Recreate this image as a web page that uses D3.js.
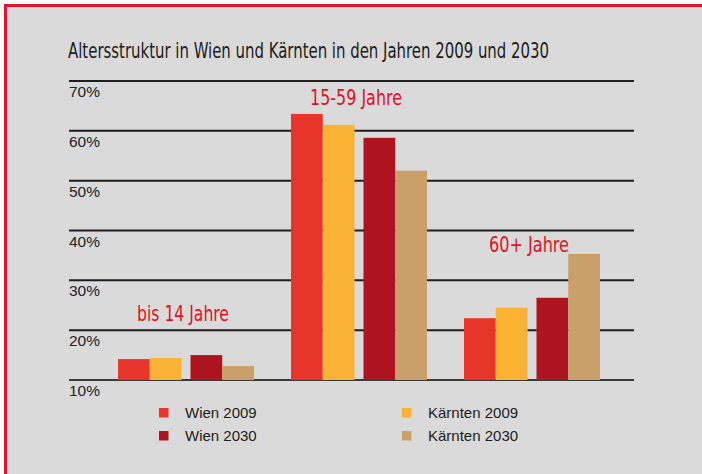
<!DOCTYPE html>
<html>
<head>
<meta charset="utf-8">
<script src="https://cdn.jsdelivr.net/npm/d3@7"></script>
<style>
  html, body { margin: 0; padding: 0; background: #ffffff; }
  svg { display: block; }
</style>
</head>
<body>
<svg id="chart" width="702" height="474"></svg>
<script>
// ---- data ----
const title = "Altersstruktur in Wien und Kärnten in den Jahren 2009 und 2030";
const categories = ["bis 14 Jahre", "15-59 Jahre", "60+ Jahre"];
const years = ["2009", "2030"];
const regions = ["Wien", "Kärnten"];
const wien2009 = [14.2, 63.4, 22.4];
const kaernten2009 = [14.4, 61.2, 24.5];
const wien2030 = [15.0, 58.6, 26.5];
const kaernten2030 = [12.8, 52.0, 35.3];
const yTicks = [10, 20, 30, 40, 50, 60, 70];
const yTickLabels = ["10%", "20%", "30%", "40%", "50%", "60%", "70%"];
const legendLabels = ["Wien 2009", "Wien 2030", "Kärnten 2009", "Kärnten 2030"];
// level (in % units) at which each category caption sits
const captionLevels = [21.8, 65.2, 35.7];

const seriesValues = {
  "Wien 2009": wien2009,
  "Kärnten 2009": kaernten2009,
  "Wien 2030": wien2030,
  "Kärnten 2030": kaernten2030
};
const colors = {
  "Wien 2009": "#e8352b",
  "Kärnten 2009": "#f9b233",
  "Wien 2030": "#ae1420",
  "Kärnten 2030": "#c9a06a"
};

const svg = d3.select("#chart");
const condensed = "'Liberation Sans Narrow', 'DejaVu Sans Condensed', 'Roboto Condensed', 'Liberation Sans', Arial, sans-serif";
const sans = "'Liberation Sans', Arial, Helvetica, sans-serif";

// background & frame
svg.append("rect").attr("x", 4).attr("y", 4).attr("width", 698).attr("height", 470).attr("fill", "#dadada");
svg.append("line").attr("x1", 5.5).attr("x2", 5.5).attr("y1", 4).attr("y2", 474)
  .attr("stroke", "#e2142d").attr("stroke-width", 3);
svg.append("line").attr("x1", 4).attr("x2", 702).attr("y1", 5.5).attr("y2", 5.5)
  .attr("stroke", "#e2142d").attr("stroke-width", 3);

// title
svg.append("text")
  .attr("x", 68).attr("y", 58)
  .attr("font-family", condensed)
  .attr("font-stretch", "condensed")
  .attr("font-size", 21)
  .attr("fill", "#1c1c1c")
  .attr("textLength", 481)
  .attr("lengthAdjust", "spacingAndGlyphs")
  .text(title);

// scales
const y = d3.scaleLinear().domain([10, 70]).range([380, 81]);
const x0 = d3.scaleBand().domain(categories).range([99.5, 618.5]).paddingInner(0.214).paddingOuter(0.107);
const xYear = d3.scaleBand().domain(years).range([0, x0.bandwidth()]).paddingInner(0.124).paddingOuter(0);
const xRegion = d3.scaleBand().domain(regions).range([0, xYear.bandwidth()]).padding(0);

// grid lines
const gridLeft = 69, gridRight = 634;
svg.append("g").selectAll("line").data(yTicks).join("line")
  .attr("x1", gridLeft).attr("x2", gridRight)
  .attr("y1", d => y(d)).attr("y2", d => y(d))
  .attr("stroke", d => d === 10 ? "#3a3a3a" : "#1e1e1e")
  .attr("stroke-width", 2);

// y labels (below each line)
svg.append("g").selectAll("text").data(yTicks).join("text")
  .attr("x", gridLeft)
  .attr("y", d => y(d) + 16)
  .attr("font-family", sans)
  .attr("font-size", 15.5)
  .attr("fill", "#222")
  .text((d, i) => yTickLabels[i]);

// bars
const barData = [];
categories.forEach((c, ci) => {
  years.forEach(yr => {
    regions.forEach(rg => {
      const key = rg + " " + yr;
      barData.push({ cat: c, year: yr, region: rg, key, value: seriesValues[key][ci] });
    });
  });
});
svg.append("g").selectAll("rect").data(barData).join("rect")
  .attr("x", d => x0(d.cat) + xYear(d.year) + xRegion(d.region))
  .attr("width", xRegion.bandwidth())
  .attr("y", d => y(d.value))
  .attr("height", d => y(10) - y(d.value))
  .attr("fill", d => colors[d.key]);

// category captions
const captionWidths = { "bis 14 Jahre": 92, "15-59 Jahre": 92, "60+ Jahre": 80 };
svg.append("g").selectAll("text").data(categories).join("text")
  .attr("x", d => x0(d) + x0.bandwidth() / 2 - 3)
  .attr("y", (d, i) => y(captionLevels[i]))
  .attr("text-anchor", "middle")
  .attr("font-family", condensed)
  .attr("font-stretch", "condensed")
  .attr("font-size", 21)
  .attr("fill", "#e3101f")
  .attr("textLength", d => captionWidths[d])
  .attr("lengthAdjust", "spacingAndGlyphs")
  .text(d => d);

// legend
const legendPos = [
  { x: 159, y: 408 }, { x: 159, y: 431 }, { x: 402, y: 408 }, { x: 402, y: 431 }
];
const lg = svg.append("g").selectAll("g").data(legendLabels).join("g")
  .attr("transform", (d, i) => `translate(${legendPos[i].x},${legendPos[i].y})`);
lg.append("rect").attr("width", 9.5).attr("height", 9.5).attr("fill", d => colors[d]);
lg.append("text")
  .attr("x", 26).attr("y", 10)
  .attr("font-family", sans)
  .attr("font-size", 15)
  .attr("fill", "#1c1c1c")
  .text(d => d);
</script>
</body>
</html>
